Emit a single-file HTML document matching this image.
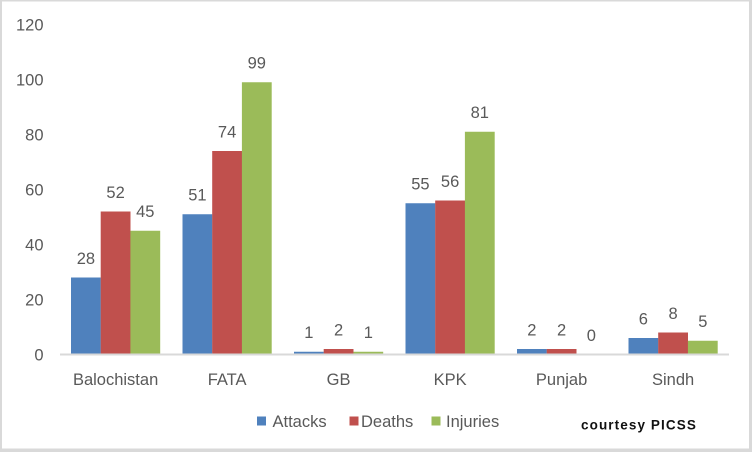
<!DOCTYPE html>
<html>
<head>
<meta charset="utf-8">
<style>
  html,body{margin:0;padding:0;background:#fff;}
  svg{display:block;}
  .t{font-family:"Liberation Sans",Arial,sans-serif;font-size:16.5px;fill:#595959;}
</style>
</head>
<body>
<svg width="752" height="452" viewBox="0 0 752 452" xmlns="http://www.w3.org/2000/svg">
  <rect x="0" y="0" width="752" height="452" fill="#fff"/>
  <!-- border -->
  <rect x="0" y="0" width="752" height="1.5" fill="#d9d9d9"/>
  <rect x="0" y="0" width="2" height="452" fill="#d9d9d9"/>
  <rect x="749" y="0" width="3" height="452" fill="#d9d9d9"/>
  <rect x="0" y="448.5" width="752" height="3.5" fill="#d9d9d9"/>

  <!-- y labels -->
  <g class="t" text-anchor="end">
    <text x="43.5" y="30.3">120</text>
    <text x="43.5" y="85.3">100</text>
    <text x="43.5" y="140.3">80</text>
    <text x="43.5" y="195.3">60</text>
    <text x="43.5" y="250.3">40</text>
    <text x="43.5" y="305.3">20</text>
    <text x="43.5" y="360.3">0</text>
  </g>

  <!-- Balochistan -->
  <rect x="71" y="277.5" width="29.8" height="77" fill="#4f81bd"/>
  <rect x="100.7" y="211.5" width="29.8" height="143" fill="#c0504d"/>
  <rect x="130.4" y="230.75" width="29.8" height="123.75" fill="#9bbb59"/>
  <!-- FATA -->
  <rect x="182.5" y="214.25" width="29.8" height="140.25" fill="#4f81bd"/>
  <rect x="212.2" y="151" width="29.8" height="203.5" fill="#c0504d"/>
  <rect x="241.9" y="82.25" width="29.8" height="272.25" fill="#9bbb59"/>
  <!-- GB -->
  <rect x="294" y="351.75" width="29.8" height="2.75" fill="#4f81bd"/>
  <rect x="323.7" y="349" width="29.8" height="5.5" fill="#c0504d"/>
  <rect x="353.4" y="351.75" width="29.8" height="2.75" fill="#9bbb59"/>
  <!-- KPK -->
  <rect x="405.5" y="203.25" width="29.8" height="151.25" fill="#4f81bd"/>
  <rect x="435.2" y="200.5" width="29.8" height="154" fill="#c0504d"/>
  <rect x="464.9" y="131.75" width="29.8" height="222.75" fill="#9bbb59"/>
  <!-- Punjab -->
  <rect x="517" y="349" width="29.8" height="5.5" fill="#4f81bd"/>
  <rect x="546.7" y="349" width="29.8" height="5.5" fill="#c0504d"/>
  <!-- Sindh -->
  <rect x="628.5" y="338" width="29.8" height="16.5" fill="#4f81bd"/>
  <rect x="658.2" y="332.5" width="29.8" height="22" fill="#c0504d"/>
  <rect x="687.9" y="340.75" width="29.8" height="13.75" fill="#9bbb59"/>

  <!-- axis -->
  <rect x="60" y="353.5" width="669" height="2" fill="#d9d9d9"/>

  <!-- data labels -->
  <g class="t" text-anchor="middle">
    <text x="85.9" y="264">28</text>
    <text x="115.6" y="198">52</text>
    <text x="145.3" y="217.2">45</text>
    <text x="197.4" y="200.7">51</text>
    <text x="227.1" y="137.5">74</text>
    <text x="256.8" y="68.7">99</text>
    <text x="308.9" y="338.2">1</text>
    <text x="338.6" y="335.5">2</text>
    <text x="368.3" y="338.2">1</text>
    <text x="420.4" y="189.7">55</text>
    <text x="450.1" y="187">56</text>
    <text x="479.8" y="118.2">81</text>
    <text x="531.9" y="335.5">2</text>
    <text x="561.6" y="335.5">2</text>
    <text x="591.3" y="341">0</text>
    <text x="643.4" y="324.5">6</text>
    <text x="673.1" y="319">8</text>
    <text x="702.8" y="327.2">5</text>
  </g>

  <!-- x labels -->
  <g class="t" text-anchor="middle">
    <text x="115.6" y="385">Balochistan</text>
    <text x="227.1" y="385">FATA</text>
    <text x="338.6" y="385">GB</text>
    <text x="450.1" y="385">KPK</text>
    <text x="561.6" y="385">Punjab</text>
    <text x="673.1" y="385">Sindh</text>
  </g>

  <!-- legend -->
  <rect x="257" y="416.5" width="9" height="9" fill="#4f81bd"/>
  <text class="t" x="272.5" y="427">Attacks</text>
  <rect x="349.5" y="416.5" width="9" height="9" fill="#c0504d"/>
  <text class="t" x="361" y="427">Deaths</text>
  <rect x="431.5" y="416.5" width="9" height="9" fill="#9bbb59"/>
  <text class="t" x="446" y="427">Injuries</text>

  <text x="581" y="429.5" style="font-family:'Liberation Sans',sans-serif;font-weight:bold;font-size:13.5px;letter-spacing:1.1px;fill:#111;">courtesy PICSS</text>
</svg>
</body>
</html>
